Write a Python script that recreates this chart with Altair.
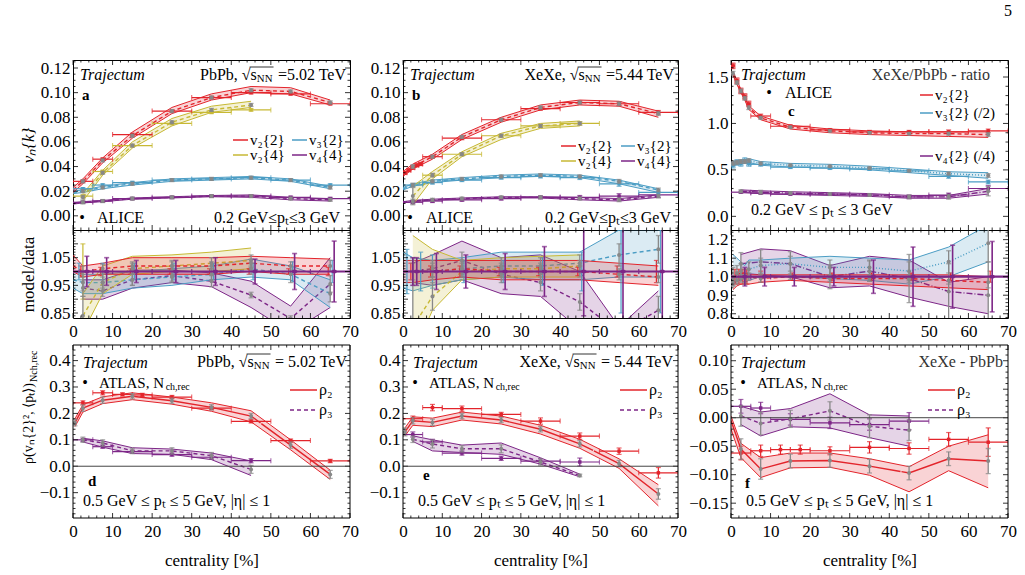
import altair as alt
import pandas as pd

FONT = "Liberation Serif"
RED, YEL, BLU, PUR, GRY = "#e3242b", "#c7b934", "#4b9dc4", "#7d2687", "#888888"

# ---------------- axis ticks ----------------
X_MAJOR = [0, 10, 20, 30, 40, 50, 60, 70]
X_MINOR = [2, 4, 6, 8, 12, 14, 16, 18, 22, 24, 26, 28, 32, 34, 36, 38,
           42, 44, 46, 48, 52, 54, 56, 58, 62, 64, 66, 68]
YT_A = [0.00, 0.02, 0.04, 0.06, 0.08, 0.10, 0.12]
YT_RAB = [0.85, 0.90, 0.95, 1.00, 1.05, 1.10]
YT_C = [0.0, 0.5, 1.0, 1.5]
YT_RC = [0.8, 0.9, 1.0, 1.1, 1.2]
YT_DE = [-0.1, 0.0, 0.1, 0.2, 0.3, 0.4]
YT_F = [-0.15, -0.10, -0.05, 0.00, 0.05, 0.10]

DOM_A = [-0.0115, 0.1265]
DOM_RAB = [0.832, 1.150]
DOM_C = [-0.147, 1.683]
DOM_RC = [0.777, 1.252]
DOM_DE = [-0.196, 0.459]
DOM_F = [-0.176, 0.1276]

# ---------------- panel a : PbPb v_n{k} ----------------
A_C = [0, 2.5, 7.5, 15, 25, 35, 45, 55, 65]
A_V22 = [0.021, 0.028, 0.045, 0.065, 0.085, 0.096, 0.102, 0.101, 0.092]
A_V22_LO = [0.019, 0.026, 0.043, 0.063, 0.083, 0.094, 0.100, 0.099, 0.090]
A_V22_HI = [0.023, 0.030, 0.047, 0.068, 0.088, 0.099, 0.105, 0.104, 0.094]
A_V24_C = [2.5, 7.5, 15, 25, 35, 45]
A_V24 = [0.015, 0.035, 0.057, 0.076, 0.086, 0.090]
A_V24_LO = [0.012, 0.033, 0.055, 0.073, 0.084, 0.088]
A_V24_HI = [0.018, 0.037, 0.060, 0.079, 0.089, 0.093]
A_V32 = [0.019, 0.020, 0.023, 0.026, 0.029, 0.030, 0.031, 0.029, 0.023]
A_V32_LO = [0.018, 0.019, 0.022, 0.025, 0.028, 0.029, 0.030, 0.028, 0.022]
A_V32_HI = [0.020, 0.021, 0.024, 0.027, 0.030, 0.031, 0.032, 0.030, 0.024]
A_V44 = [0.010, 0.011, 0.012, 0.014, 0.015, 0.016, 0.016, 0.014, 0.013]
A_V44_LO = [0.0095, 0.0105, 0.0115, 0.0135, 0.0145, 0.0155, 0.015, 0.013, 0.012]
A_V44_HI = [0.0105, 0.0115, 0.0125, 0.0145, 0.0155, 0.0165, 0.017, 0.015, 0.014]
A_GE = [None, 0.0012, 0.0012, 0.0012, 0.0012, 0.0012, 0.0012, 0.0012, 0.0012]
A_GE24 = [0.0015, 0.0012, 0.0012, 0.0012, 0.0012, 0.0012]
# ALICE PbPb
A_BLO = [0, 5, 10, 20, 30, 40, 50, 60]
A_BHI = [5, 10, 20, 30, 40, 50, 60, 70]
A_D22 = [0.028, 0.046, 0.066, 0.085, 0.096, 0.100, 0.099, 0.091]
A_D24 = [0.016, 0.036, 0.057, 0.075, 0.084, 0.086]
A_D32 = [0.022, 0.025, 0.027, 0.029, 0.030, 0.031, 0.029, 0.025]
A_D44 = [0.011, 0.012, 0.014, 0.015, 0.016, 0.016, 0.015, 0.014]
A_DE = [0.0010, 0.0010, 0.0010, 0.0010, 0.0010, 0.0010, 0.0010, 0.0010]

# ---------------- panel b : XeXe v_n{k} ----------------
B_C = [0, 2.5, 7.5, 15, 25, 35, 45, 55, 65]
B_V22 = [0.034, 0.040, 0.048, 0.064, 0.078, 0.088, 0.092, 0.091, 0.083]
B_V22_LO = [0.032, 0.038, 0.046, 0.062, 0.076, 0.086, 0.090, 0.089, 0.080]
B_V22_HI = [0.036, 0.042, 0.050, 0.066, 0.080, 0.090, 0.094, 0.093, 0.085]
B_V24_C = [2.5, 7.5, 15, 25, 35, 45]
B_V24 = [0.016, 0.033, 0.050, 0.065, 0.073, 0.075]
B_V24_LO = [0.009, 0.030, 0.048, 0.062, 0.071, 0.073]
B_V24_HI = [0.024, 0.036, 0.052, 0.067, 0.075, 0.077]
B_V32 = [0.022, 0.025, 0.028, 0.030, 0.032, 0.033, 0.032, 0.028, 0.021]
B_V32_LO = [0.021, 0.024, 0.027, 0.029, 0.031, 0.032, 0.031, 0.026, 0.019]
B_V32_HI = [0.023, 0.026, 0.029, 0.031, 0.033, 0.034, 0.033, 0.029, 0.022]
B_V44 = [0.011, 0.012, 0.013, 0.014, 0.015, 0.015, 0.014, 0.013, 0.016]
B_V44_LO = [0.0105, 0.0115, 0.0125, 0.0135, 0.0145, 0.0145, 0.013, 0.012, 0.015]
B_V44_HI = [0.0115, 0.0125, 0.0135, 0.0145, 0.0155, 0.0155, 0.015, 0.014, 0.017]
B_GE = [None, 0.0015, 0.0012, 0.0012, 0.0012, 0.0012, 0.0012, 0.0015, 0.0015]
B_GE24 = [0.007, 0.0015, 0.0012, 0.0012, 0.0012, 0.0012]
# ALICE XeXe
B_D22_LO = [0, 1, 2, 3, 4, 5, 10, 20, 30, 40, 50, 60]
B_D22_HI = [1, 2, 3, 4, 5, 10, 20, 30, 40, 50, 60, 70]
B_D22 = [0.035, 0.037, 0.039, 0.041, 0.042, 0.048, 0.063, 0.078, 0.087, 0.092, 0.091, 0.084]
B_D22_E = [0.0012, 0.0012, 0.0012, 0.0012, 0.0012, 0.0012, 0.0012, 0.0012, 0.0012, 0.0012, 0.0015, 0.0015]
B_BLO = [0, 5, 10, 20, 30, 40, 50, 60]
B_BHI = [5, 10, 20, 30, 40, 50, 60, 70]
B_D24 = [0.033, 0.050, 0.065, 0.073, 0.075]
B_D32 = [0.025, 0.027, 0.029, 0.031, 0.032, 0.031, 0.026, 0.019]
B_D44 = [0.011, 0.012, 0.013, 0.014, 0.015, 0.015, 0.016, 0.017]
B_DE = [0.0012, 0.0012, 0.0012, 0.0012, 0.0012, 0.0015, 0.0020, 0.0020]

# ---------------- panel c : XeXe/PbPb ratio ----------------
C_C = [0.5, 1.5, 2.5, 3.5, 4.5, 7.5, 15, 25, 35, 45, 55, 65]
C_V22 = [1.54, 1.44, 1.35, 1.27, 1.17, 1.06, 0.96, 0.92, 0.90, 0.89, 0.89, 0.88]
C_V22_LO = [1.52, 1.42, 1.33, 1.25, 1.15, 1.04, 0.94, 0.90, 0.88, 0.87, 0.86, 0.85]
C_V22_HI = [1.56, 1.46, 1.37, 1.29, 1.19, 1.08, 0.98, 0.94, 0.92, 0.91, 0.91, 0.91]
C_V32 = [0.57, 0.58, 0.59, 0.59, 0.60, 0.57, 0.55, 0.54, 0.52, 0.49, 0.46, 0.44]
C_V32_LO = [0.55, 0.56, 0.57, 0.57, 0.58, 0.55, 0.53, 0.52, 0.50, 0.47, 0.44, 0.41]
C_V32_HI = [0.59, 0.60, 0.61, 0.61, 0.62, 0.59, 0.57, 0.56, 0.54, 0.51, 0.48, 0.47]
C_V42_C = [2.5, 7.5, 15, 25, 35, 45, 55, 65]
C_V42 = [0.27, 0.26, 0.25, 0.24, 0.23, 0.21, 0.21, 0.27]
C_V42_LO = [0.255, 0.245, 0.235, 0.225, 0.215, 0.195, 0.195, 0.24]
C_V42_HI = [0.285, 0.275, 0.265, 0.255, 0.245, 0.225, 0.225, 0.30]
C_GE = [0.02, 0.02, 0.02, 0.02, 0.02, 0.015, 0.012, 0.012, 0.012, 0.012, 0.015, 0.02]
C_GE42 = [0.015, 0.02, 0.015, 0.015, 0.015, 0.02, 0.025, 0.05]
C_BLO = [0, 1, 2, 3, 4, 5, 10, 20, 30, 40, 50, 60]
C_BHI = [1, 2, 3, 4, 5, 10, 20, 30, 40, 50, 60, 70]
C_D22 = [1.62, 1.46, 1.35, 1.29, 1.21, 1.08, 0.97, 0.93, 0.91, 0.91, 0.91, 0.92]
C_D32 = [0.55, 0.58, 0.57, 0.60, 0.57, 0.56, 0.53, 0.52, 0.51, 0.49, 0.43, 0.37]
C_DE = [0.03, 0.03, 0.03, 0.03, 0.03, 0.02, 0.015, 0.015, 0.015, 0.015, 0.02, 0.02]
C_BLO42 = [0, 5, 10, 20, 30, 40, 50, 60]
C_BHI42 = [5, 10, 20, 30, 40, 50, 60, 70]
C_D42 = [0.26, 0.25, 0.24, 0.24, 0.23, 0.21, 0.23, 0.30]
C_DE42 = [0.01, 0.01, 0.01, 0.01, 0.01, 0.02, 0.02, 0.03]

# ---------------- model/data panels ----------------
RA_C = [0, 2.5, 7.5, 15, 25, 35, 45, 55, 65]
RA_V22 = [1.02, 1.00, 1.01, 1.02, 1.02, 1.02, 1.03, 1.02, 1.02]
RA_V22_LO = [1.00, 0.98, 0.99, 0.99, 0.99, 0.99, 1.00, 0.99, 0.99]
RA_V22_HI = [1.06, 1.02, 1.03, 1.05, 1.05, 1.05, 1.055, 1.05, 1.045]
RA_V24_C = [2.5, 7.5, 15, 25, 35, 45]
RA_V24 = [0.84, 0.96, 1.01, 1.02, 1.03, 1.04]
RA_V24_LO = [0.78, 0.92, 0.99, 1.00, 1.00, 1.01]
RA_V24_HI = [0.92, 1.02, 1.055, 1.06, 1.07, 1.085]
RA_V32 = [0.97, 0.96, 0.96, 0.97, 0.98, 0.99, 1.01, 0.99, 0.92]
RA_V32_LO = [0.94, 0.92, 0.92, 0.94, 0.95, 0.97, 0.98, 0.97, 0.87]
RA_V32_HI = [1.00, 0.99, 0.99, 1.00, 1.01, 1.02, 1.045, 1.02, 0.97]
RA_V44_C = [2.5, 7.5, 15, 25, 35, 45, 55, 65]
RA_V44 = [0.94, 0.93, 0.97, 0.985, 0.965, 0.915, 0.83, 0.955]
RA_V44_LO = [0.90, 0.90, 0.94, 0.96, 0.945, 0.87, 0.78, 0.87]
RA_V44_HI = [0.97, 0.97, 1.005, 1.005, 0.995, 0.965, 0.875, 1.05]
RA_G22 = [None, 0.02, 0.015, 0.015, 0.015, 0.015, 0.015, 0.015, 0.02]
RA_G24 = [0.07, 0.03, 0.02, 0.02, 0.02, 0.02]
RA_G32 = [None, 0.03, 0.02, 0.02, 0.02, 0.02, 0.02, 0.03, 0.03]
RA_G44 = [0.03, 0.02, 0.02, 0.02, 0.02, 0.01, 0.01, 0.03]
RA_E44_C = [3.5, 8.5, 16, 26, 36, 46, 56, 66]
RA_E44 = [0.055, 0.05, 0.04, 0.04, 0.05, 0.045, 0.065, 0.11]
RA_E22_C = [2.0, 7.0, 14.5, 24.5, 34.5, 44.5, 54.5, 64.5]
RA_E22 = [0.02, 0.015, 0.01, 0.01, 0.01, 0.01, 0.01, 0.015]
RA_E32_C = [1.5, 7.5, 15.5, 25.5, 35.5, 45.5, 55.5, 65.5]
RA_E32 = [0.03, 0.03, 0.03, 0.03, 0.03, 0.03, 0.035, 0.04]
RA_E24_C = [2.5]
RA_E24 = [0.10]

RB_C = [0, 2.5, 7.5, 15, 25, 35, 45, 55, 65]
RB_V22 = [1.00, 1.00, 1.00, 1.01, 1.00, 1.00, 1.00, 0.99, 0.98]
RB_V22_LO = [0.96, 0.96, 0.97, 0.98, 0.97, 0.97, 0.97, 0.96, 0.95]
RB_V22_HI = [1.04, 1.04, 1.04, 1.04, 1.04, 1.04, 1.04, 1.03, 1.02]
RB_V24_C = [2.5, 7.5, 15, 25, 35, 45]
RB_V24 = [0.80, 0.91, 1.00, 1.01, 1.01, 1.02]
RB_V24_LO = [0.70, 0.86, 0.97, 0.98, 0.98, 0.98]
RB_V24_HI = [1.13, 1.08, 1.04, 1.05, 1.055, 1.06]
RB_V32 = [1.00, 1.00, 1.00, 1.01, 1.02, 1.02, 1.03, 1.06, 1.08]
RB_V32_LO = [0.94, 0.93, 0.95, 0.97, 0.98, 0.97, 0.97, 0.98, 0.98]
RB_V32_HI = [1.07, 1.05, 1.04, 1.05, 1.07, 1.07, 1.07, 1.15, 1.16]
RB_V44_C = [2.5, 7.5, 15, 25, 35, 45, 55, 65]
RB_V44 = [1.00, 1.01, 1.04, 0.99, 0.96, 0.89, 0.78, 0.86]
RB_V44_LO = [0.96, 0.95, 0.97, 0.92, 0.91, 0.79, 0.70, 0.78]
RB_V44_HI = [1.03, 1.06, 1.11, 1.05, 1.06, 1.00, 0.80, 0.93]
RB_G22 = [None, 0.03, 0.02, 0.02, 0.02, 0.02, 0.02, 0.02, 0.02]
RB_G24 = [0.20, 0.05, 0.02, 0.02, 0.02, 0.02]
RB_G32 = [None, 0.05, 0.03, 0.03, 0.03, 0.03, 0.03, 0.04, 0.05]
RB_G44 = [0.04, 0.03, 0.03, 0.03, 0.03, 0.03, 0.04, 0.05]
RB_E44_C = [2.5, 3.5, 8.5, 16, 26, 36, 46, 56, 66]
RB_E44 = [0.05, 0.05, 0.065, 0.06, 0.065, 0.09, 0.16, 0.25, 0.30]
RB_E22_C = [2.0, 7.0, 14.5, 24.5, 34.5, 44.5, 54.5, 64.5]
RB_E22 = [0.03, 0.02, 0.02, 0.015, 0.015, 0.015, 0.02, 0.04]
RB_E32_C = [1.0, 4.5, 7.5, 15.5, 25.5, 35.5, 45.5, 55.5, 65.5]
RB_E32 = [0.08, 0.07, 0.06, 0.04, 0.04, 0.05, 0.07, 0.15, 0.15]

RC_C = [0.5, 1.5, 2.5, 3.5, 4.5, 7.5, 15, 25, 35, 45, 55, 65]
RC_V22 = [0.97, 0.98, 0.99, 0.99, 1.00, 0.99, 1.00, 0.99, 0.99, 0.99, 0.98, 0.97]
RC_V22_LO = [0.93, 0.95, 0.96, 0.96, 0.96, 0.97, 0.98, 0.97, 0.96, 0.95, 0.94, 0.93]
RC_V22_HI = [1.00, 1.01, 1.02, 1.02, 1.01, 1.01, 1.01, 1.01, 1.01, 1.01, 1.01, 1.00]
RC_V32 = [1.00, 1.02, 1.03, 1.00, 1.04, 1.06, 1.07, 1.05, 1.05, 1.03, 1.08, 1.18]
RC_V32_LO = [0.95, 0.98, 0.98, 0.97, 0.98, 1.00, 1.00, 0.99, 0.98, 0.96, 1.00, 1.08]
RC_V32_HI = [1.12, 1.10, 1.08, 1.06, 1.09, 1.09, 1.10, 1.11, 1.10, 1.09, 1.16, 1.28]
RC_V42_C = [2.5, 7.5, 15, 25, 35, 45, 55, 65]
RC_V42 = [1.07, 1.08, 1.07, 1.00, 1.03, 0.99, 0.92, 0.90]
RC_V42_LO = [1.02, 1.01, 1.00, 0.94, 0.95, 0.89, 0.84, 0.80]
RC_V42_HI = [1.12, 1.15, 1.14, 1.06, 1.11, 1.09, 0.97, 1.00]
RC_G22 = [0.02, 0.02, 0.02, 0.02, 0.02, 0.02, 0.015, 0.015, 0.015, 0.02, 0.02, 0.03]
RC_G32 = [0.05, 0.04, 0.04, 0.04, 0.04, 0.04, 0.04, 0.04, 0.04, 0.05, 0.06, 0.10]
RC_G42 = [0.06, 0.065, 0.065, 0.065, 0.055, 0.13, 0.15, 0.18]
RC_E42_C = [3.5, 8.5, 16, 26, 36, 46, 56, 66]
RC_E42 = [0.05, 0.05, 0.05, 0.05, 0.09, 0.16, 0.17, 0.19]
RC_E22_C = [1.0, 2.0, 3.0, 4.0, 7.5, 15.5, 25.5, 35.5, 45.5, 55.5, 65.5]
RC_E22 = [0.04, 0.04, 0.04, 0.04, 0.03, 0.02, 0.02, 0.02, 0.02, 0.02, 0.03]

# ---------------- panel d : PbPb rho ----------------
D_C = [0.5, 2.5, 7.5, 15, 25, 35, 45, 55, 65]
D_R2 = [0.165, 0.22, 0.25, 0.265, 0.248, 0.223, 0.19, 0.08, -0.031]
D_R2_LO = [0.15, 0.205, 0.237, 0.252, 0.235, 0.208, 0.168, 0.062, -0.05]
D_R2_HI = [0.18, 0.233, 0.263, 0.278, 0.262, 0.24, 0.21, 0.10, -0.015]
D_R2_GE = [0.012, 0.012, 0.012, 0.01, 0.01, 0.01, 0.01, 0.012, 0.015]
D_R3_C = [2.5, 7.5, 15, 25, 35, 45]
D_R3 = [0.10, 0.088, 0.058, 0.058, 0.04, -0.012]
D_R3_LO = [0.092, 0.072, 0.048, 0.045, 0.025, -0.035]
D_R3_HI = [0.106, 0.096, 0.07, 0.065, 0.05, 0.02]
D_R3_GE = [0.01, 0.012, 0.01, 0.012, 0.012, 0.015]
D_D2_LO = [0, 5, 10, 15, 20, 30, 40, 50, 60]
D_D2_HI = [5, 10, 15, 20, 30, 40, 50, 60, 70]
D_D2 = [0.24, 0.278, 0.272, 0.27, 0.262, 0.22, 0.17, 0.097, 0.02]
D_D2_E = [0.008, 0.008, 0.006, 0.006, 0.006, 0.006, 0.006, 0.006, 0.006]
D_D3_LO = [0, 5, 10, 20, 30, 40]
D_D3_HI = [5, 10, 20, 30, 40, 50]
D_D3 = [0.10, 0.074, 0.055, 0.044, 0.034, 0.021]
D_D3_E = [0.006, 0.006, 0.006, 0.006, 0.008, 0.008]

# ---------------- panel e : XeXe rho ----------------
E_C = [0.5, 2.5, 7.5, 15, 25, 35, 45, 55, 65]
E_R2 = [0.13, 0.172, 0.166, 0.19, 0.175, 0.14, 0.085, 0.01, -0.105]
E_R2_LO = [0.115, 0.155, 0.15, 0.175, 0.16, 0.122, 0.068, -0.008, -0.15]
E_R2_HI = [0.145, 0.187, 0.182, 0.205, 0.19, 0.155, 0.102, 0.028, -0.07]
E_R2_GE = [0.015, 0.012, 0.012, 0.01, 0.01, 0.01, 0.012, 0.012, 0.02]
E_R3_C = [2.5, 7.5, 15, 25, 35, 45]
E_R3 = [0.102, 0.084, 0.066, 0.066, 0.016, -0.035]
E_R3_LO = [0.094, 0.058, 0.052, 0.045, 0.008, -0.04]
E_R3_HI = [0.115, 0.10, 0.08, 0.088, 0.032, -0.03]
E_R3_GE = [0.012, 0.015, 0.012, 0.015, 0.012, 0.005]
E_D2_LO = [0, 5, 10, 20, 30, 40, 50, 60]
E_D2_HI = [5, 10, 20, 30, 40, 50, 60, 70]
E_D2 = [0.18, 0.222, 0.218, 0.196, 0.171, 0.114, 0.057, -0.025]
E_D2_E = [0.01, 0.012, 0.01, 0.008, 0.012, 0.012, 0.012, 0.02]
E_D3_LO = [0, 5, 10, 20, 30, 40]
E_D3_HI = [5, 10, 20, 30, 40, 50]
E_D3 = [0.12, 0.092, 0.05, 0.03, 0.019, 0.016]
E_D3_E = [0.01, 0.01, 0.008, 0.008, 0.01, 0.015]

# ---------------- panel f : XeXe - PbPb ----------------
F_C = [0, 2.5, 7.5, 15, 25, 35, 45, 55, 65]
F_R2 = [-0.005, -0.055, -0.09, -0.076, -0.075, -0.085, -0.097, -0.072, -0.076]
F_R2_LO = [-0.02, -0.07, -0.105, -0.088, -0.087, -0.101, -0.13, -0.093, -0.123]
F_R2_HI = [0.003, -0.045, -0.07, -0.062, -0.062, -0.072, -0.086, -0.05, -0.03]
F_R2_GE = [None, 0.018, 0.018, 0.012, 0.012, 0.012, 0.012, 0.012, 0.022]
F_R3_C = [2.5, 7.5, 15, 25, 35, 45]
F_R3 = [0.003, -0.01, -0.002, 0.012, -0.015, -0.022]
F_R3_LO = [-0.012, -0.032, -0.016, -0.018, -0.035, -0.05]
F_R3_HI = [0.02, 0.01, 0.016, 0.042, 0.005, 0.003]
F_R3_GE = [0.018, 0.02, 0.015, 0.016, 0.02, 0.018]
F_D2_LO = [0, 5, 10, 15, 20, 30, 40, 50, 60]
F_D2_HI = [5, 10, 15, 20, 30, 40, 50, 60, 70]
F_D2 = [-0.062, -0.058, -0.056, -0.056, -0.058, -0.052, -0.054, -0.038, -0.043]
F_D2_E = [0.012, 0.01, 0.008, 0.008, 0.007, 0.01, 0.01, 0.012, 0.025]
F_D3_LO = [0, 5, 10, 20, 30, 40]
F_D3_HI = [5, 10, 20, 30, 40, 50]
F_D3 = [0.02, 0.017, -0.003, -0.009, -0.012, -0.006]
F_D3_E = [0.012, 0.01, 0.01, 0.01, 0.01, 0.015]

# ======================================================================
ONE = pd.DataFrame({"k": [0]})

CW = {" ": 0.25, ",": 0.25, ".": 0.25, "=": 0.564, "-": 0.333, "/": 0.278,
      "(": 0.333, ")": 0.333, "{": 0.48, "}": 0.48, "A": 0.722, "G": 0.722,
      "L": 0.611, "N": 0.722, "P": 0.556, "S": 0.556, "T": 0.611, "V": 0.722,
      "X": 0.722, "a": 0.444, "b": 0.5, "e": 0.444, "√": 0.55, "s": 0.389}


def tw(s, size):
    return size * sum(CW.get(ch, 0.5) for ch in s)


class Panel:
    def __init__(self, w, h, dom, xaxis, yaxis, top=0):
        self.w, self.h, self.dom, self.top = w, h, dom, top
        self.xaxis, self.yaxis = xaxis, yaxis
        self.xs = alt.Scale(domain=[0, 70], nice=False, zero=False)
        if top:
            self.ys = alt.Scale(domain=dom, nice=False, zero=False, range=[h, top])
        else:
            self.ys = alt.Scale(domain=dom, nice=False, zero=False)
        self.layers = []

    def add(self, ch):
        self.layers.append(ch)


def X(P, f):
    return alt.X(f + ":Q", scale=P.xs, axis=P.xaxis)


def Y(P, f):
    return alt.Y(f + ":Q", scale=P.ys, axis=P.yaxis)


def minor(major, n, dom):
    step = (major[1] - major[0]) / n
    out = []
    k = int(dom[0] / step) - 1
    while k * step <= dom[1]:
        v = round(k * step, 6)
        if dom[0] <= v <= dom[1] and all(abs(v - m) > 1e-9 for m in major):
            out.append(v)
        k += 1
    return out


def ticks(P, ymaj, nsub):
    h, t, w = P.h, P.top, P.w
    ymin = minor(ymaj, nsub, P.dom)
    for vals, L in ((X_MAJOR, 5), (X_MINOR, 2.5)):
        df = pd.DataFrame({"t": vals})
        b = alt.Chart(df).mark_rule(color="black", strokeWidth=0.8)
        P.add(b.encode(x=X(P, "t"), y=alt.value(h), y2=alt.value(h - L)))
        P.add(b.encode(x=X(P, "t"), y=alt.value(t), y2=alt.value(t + L)))
    for vals, L in ((ymaj, 5), (ymin, 2.5)):
        df = pd.DataFrame({"t": vals})
        b = alt.Chart(df).mark_rule(color="black", strokeWidth=0.8)
        P.add(b.encode(y=Y(P, "t"), x=alt.value(0), x2=alt.value(L)))
        P.add(b.encode(y=Y(P, "t"), x=alt.value(w - L), x2=alt.value(w)))


def band(P, c, lo, hi, mid, color, dash=(4, 3), op=0.2):
    df = pd.DataFrame({"c": c, "lo": lo, "hi": hi, "mid": mid})
    b = alt.Chart(df)
    P.add(b.mark_area(color=color, opacity=op, clip=True).encode(
        x=X(P, "c"), y=Y(P, "lo"), y2=alt.Y2("hi")))
    P.add(b.mark_line(color=color, strokeWidth=1, clip=True).encode(x=X(P, "c"), y=Y(P, "lo")))
    P.add(b.mark_line(color=color, strokeWidth=1, clip=True).encode(x=X(P, "c"), y=Y(P, "hi")))
    P.add(b.mark_line(color=color, strokeWidth=1.4, strokeDash=list(dash), clip=True).encode(
        x=X(P, "c"), y=Y(P, "mid")))


def errbars(P, cm, v, e, color, sw=1.2, cap=5):
    rows = [(a, b, c) for a, b, c in zip(cm, v, e) if c is not None]
    df = pd.DataFrame({"cm": [r[0] for r in rows],
                       "e1": [r[1] - r[2] for r in rows],
                       "e2": [r[1] + r[2] for r in rows]})
    b = alt.Chart(df)
    P.add(b.mark_rule(color=color, strokeWidth=sw, clip=True).encode(
        x=X(P, "cm"), y=Y(P, "e1"), y2=alt.Y2("e2")))
    P.add(b.mark_tick(color=color, orient="horizontal", size=cap, thickness=sw, clip=True).encode(
        x=X(P, "cm"), y=Y(P, "e1")))
    P.add(b.mark_tick(color=color, orient="horizontal", size=cap, thickness=sw, clip=True).encode(
        x=X(P, "cm"), y=Y(P, "e2")))


def model_pts(P, c, v, e):
    errbars(P, c, v, e, GRY, sw=1.3)
    rows = [(a, b) for a, b, x in zip(c, v, e) if x is not None]
    df = pd.DataFrame({"c": [r[0] for r in rows], "v": [r[1] for r in rows]})
    P.add(alt.Chart(df).mark_circle(color=GRY, size=16, opacity=1, clip=True).encode(
        x=X(P, "c"), y=Y(P, "v")))


def data(P, lo, hi, v, e, color, sw=1.2, cm=None):
    if cm is None:
        cm = [(a + b) / 2 for a, b in zip(lo, hi)]
    df = pd.DataFrame({"lo": lo, "hi": hi, "v": v, "cm": cm})
    b = alt.Chart(df)
    P.add(b.mark_rule(color=color, strokeWidth=sw, clip=True).encode(
        x=X(P, "lo"), x2=alt.X2("hi"), y=Y(P, "v")))
    P.add(b.mark_tick(color=color, orient="vertical", size=5, thickness=1.1, clip=True).encode(
        x=X(P, "lo"), y=Y(P, "v")))
    P.add(b.mark_tick(color=color, orient="vertical", size=5, thickness=1.1, clip=True).encode(
        x=X(P, "hi"), y=Y(P, "v")))
    errbars(P, cm, v, e, color, sw=sw)
    P.add(b.mark_square(color=color, size=12, opacity=1, clip=True).encode(
        x=X(P, "cm"), y=Y(P, "v")))


def txt(P, x, y, s, size=16, align="left", baseline="middle", style="normal",
        weight="normal", angle=0, color="black"):
    P.add(alt.Chart(ONE).mark_text(
        text=s, font=FONT, fontSize=size, align=align, baseline=baseline,
        fontStyle=style, fontWeight=weight, angle=angle, color=color).encode(
        x=alt.value(x), y=alt.value(y)))


def seg(P, x1, x2, y, color, dash=None, sw=1.5):
    if dash:
        m = alt.Chart(ONE).mark_rule(color=color, strokeWidth=sw, strokeDash=list(dash))
    else:
        m = alt.Chart(ONE).mark_rule(color=color, strokeWidth=sw)
    P.add(m.encode(x=alt.value(x1), x2=alt.value(x2), y=alt.value(y)))


def header_sqrt(P, xr, y, pre, post, size=16):
    w_post = tw(post, size)
    w_nn = tw("NN", size * 0.68)
    x_nn = xr - w_post - w_nn
    txt(P, xr, y, post, size, align="right")
    txt(P, x_nn, y + 4, "NN", size * 0.68)
    txt(P, x_nn, y, pre, size, align="right")
    # overline of the square root
    seg(P, x_nn - tw("s", size) - 1, x_nn + w_nn + 1, y - 8, "black", sw=0.8)


def frame(P):
    P.add(alt.Chart(ONE).mark_rect(fillOpacity=0, stroke="black", strokeWidth=1).encode(
        x=alt.value(0), x2=alt.value(P.w), y=alt.value(P.top), y2=alt.value(P.h)))


def zero_line(P):
    df = pd.DataFrame({"z": [0.0]})
    P.add(alt.Chart(df).mark_rule(color="#444444", strokeWidth=1).encode(
        y=Y(P, "z"), x=alt.value(0), x2=alt.value(P.w)))


def yaxis(vals, fmt, title=None, h=0, top=0, style="normal"):
    if title:
        return alt.Axis(values=vals, format=fmt, title=title, titleX=-40,
                        titleY=(h + top) / 2, titleAngle=270, titleAlign="center",
                        titleBaseline="alphabetic", titleFontStyle=style)
    return alt.Axis(values=vals, format=fmt, title=None)


XAX_TOP = alt.Axis(values=X_MAJOR, labels=False, title=None)
XAX_MID = alt.Axis(values=X_MAJOR, format="d", title=None, labelPadding=5)
XAX_BOT = alt.Axis(values=X_MAJOR, format="d", title="centrality [%]",
                   labelPadding=5, titlePadding=13)

W_A, W_B, W_C = 277, 275, 277
H_TOP, H_RAT, H_BOT, GAP = 170, 88, 200, 27

# ---------------- build panel a ----------------
pa = Panel(W_A, H_TOP, DOM_A, XAX_TOP, yaxis(YT_A, ".2f", "vₙ{k}", H_TOP, style="italic"))
band(pa, A_C, A_V44_LO, A_V44_HI, A_V44, PUR)
band(pa, A_C, A_V32_LO, A_V32_HI, A_V32, BLU)
band(pa, A_V24_C, A_V24_LO, A_V24_HI, A_V24, YEL)
band(pa, A_C, A_V22_LO, A_V22_HI, A_V22, RED)
data(pa, A_BLO, A_BHI, A_D44, A_DE, PUR)
data(pa, A_BLO, A_BHI, A_D32, A_DE, BLU)
data(pa, A_BLO[:6], A_BHI[:6], A_D24, A_DE[:6], YEL)
data(pa, A_BLO, A_BHI, A_D22, A_DE, RED)
model_pts(pa, A_C, A_V44, A_GE)
model_pts(pa, A_C, A_V32, A_GE)
model_pts(pa, A_V24_C, A_V24, A_GE24)
model_pts(pa, A_C, A_V22, A_GE)
ticks(pa, YT_A, 4)
txt(pa, 7, 15, "Trajectum", 16, style="italic")
header_sqrt(pa, 273, 15, "PbPb, √s", " =5.02 TeV")
txt(pa, 9, 35, "a", 15, weight="bold")
seg(pa, 160, 175, 80, RED); txt(pa, 177, 80, "v₂{2}", 15)
seg(pa, 219, 234, 80, BLU); txt(pa, 236, 80, "v₃{2}", 15)
seg(pa, 160, 175, 95, YEL); txt(pa, 177, 95, "v₂{4}", 15)
seg(pa, 219, 234, 95, PUR); txt(pa, 236, 95, "v₄{4}", 15)
txt(pa, 9, 158, "•", 16, align="center")
txt(pa, 24, 158, "ALICE", 16)
txt(pa, 267, 158, "0.2 GeV≤pₜ≤3 GeV", 16, align="right")

# ---------------- build panel b ----------------
pb = Panel(W_B, H_TOP, DOM_A, XAX_TOP, yaxis(YT_A, ".2f"))
band(pb, B_C, B_V44_LO, B_V44_HI, B_V44, PUR)
band(pb, B_C, B_V32_LO, B_V32_HI, B_V32, BLU)
band(pb, B_V24_C, B_V24_LO, B_V24_HI, B_V24, YEL)
band(pb, B_C, B_V22_LO, B_V22_HI, B_V22, RED)
data(pb, B_BLO, B_BHI, B_D44, B_DE, PUR)
data(pb, B_BLO, B_BHI, B_D32, B_DE, BLU)
data(pb, B_BLO[1:6], B_BHI[1:6], B_D24, B_DE[1:6], YEL)
data(pb, B_D22_LO, B_D22_HI, B_D22, B_D22_E, RED)
model_pts(pb, B_C, B_V44, B_GE)
model_pts(pb, B_C, B_V32, B_GE)
model_pts(pb, B_V24_C, B_V24, B_GE24)
model_pts(pb, B_C, B_V22, B_GE)
ticks(pb, YT_A, 4)
txt(pb, 7, 15, "Trajectum", 16, style="italic")
header_sqrt(pb, 271, 15, "XeXe, √s", " =5.44 TeV")
txt(pb, 9, 35, "b", 15, weight="bold")
seg(pb, 158, 173, 86, RED); txt(pb, 175, 86, "v₂{2}", 15)
seg(pb, 218, 232, 86, BLU); txt(pb, 234, 86, "v₃{2}", 15)
seg(pb, 158, 173, 101, YEL); txt(pb, 175, 101, "v₂{4}", 15)
seg(pb, 218, 232, 101, PUR); txt(pb, 234, 101, "v₄{4}", 15)
txt(pb, 7, 158, "•", 16, align="center")
txt(pb, 23, 158, "ALICE", 16)
txt(pb, 268, 158, "0.2 GeV≤pₜ≤3 GeV", 16, align="right")

# ---------------- build panel c ----------------
pc = Panel(W_C, H_TOP, DOM_C, XAX_TOP, yaxis(YT_C, ".1f"))
band(pc, C_V42_C, C_V42_LO, C_V42_HI, C_V42, PUR, dash=(6, 2, 1, 2))
band(pc, C_C, C_V32_LO, C_V32_HI, C_V32, BLU, dash=(1, 2))
band(pc, C_C, C_V22_LO, C_V22_HI, C_V22, RED, dash=(4, 3))
data(pc, C_BLO42, C_BHI42, C_D42, C_DE42, PUR)
data(pc, C_BLO, C_BHI, C_D32, C_DE, BLU)
data(pc, C_BLO, C_BHI, C_D22, C_DE, RED)
model_pts(pc, C_V42_C, C_V42, C_GE42)
model_pts(pc, C_C, C_V32, C_GE)
model_pts(pc, C_C, C_V22, C_GE)
ticks(pc, YT_C, 5)
txt(pc, 10, 15, "Trajectum", 16, style="italic")
txt(pc, 259, 15, "XeXe/PbPb - ratio", 16, align="right", color="#333333")
txt(pc, 38, 33, "•", 16, align="center")
txt(pc, 54, 33, "ALICE", 16)
txt(pc, 57, 51, "c", 15, weight="bold")
seg(pc, 189, 202, 35, RED); txt(pc, 204, 35, "v₂{2}", 15)
seg(pc, 189, 202, 53, BLU); txt(pc, 204, 53, "v₃{2} (/2)", 15)
seg(pc, 189, 202, 96, PUR); txt(pc, 204, 96, "v₄{2} (/4)", 15)
txt(pc, 20, 150, "0.2 GeV ≤ pₜ ≤ 3 GeV", 16)
txt(pc, 277, -49, "5", 16, align="center")

# ---------------- model/data panels ----------------
ra = Panel(W_A, H_RAT, DOM_RAB, XAX_MID, yaxis(YT_RAB, ".2f", "model/data", H_RAT))
band(ra, RA_V44_C, RA_V44_LO, RA_V44_HI, RA_V44, PUR)
band(ra, RA_C, RA_V32_LO, RA_V32_HI, RA_V32, BLU)
band(ra, RA_V24_C, RA_V24_LO, RA_V24_HI, RA_V24, YEL)
band(ra, RA_C, RA_V22_LO, RA_V22_HI, RA_V22, RED)
errbars(ra, RA_E24_C, [1.0], RA_E24, YEL)
errbars(ra, RA_E22_C, [1.0] * len(RA_E22_C), RA_E22, RED)
errbars(ra, RA_E32_C, [1.0] * len(RA_E32_C), RA_E32, BLU)
model_pts(ra, RA_V24_C, RA_V24, RA_G24)
model_pts(ra, RA_C, RA_V32, RA_G32)
model_pts(ra, RA_C, RA_V22, RA_G22)
model_pts(ra, RA_V44_C, RA_V44, RA_G44)
data(ra, A_BLO, A_BHI, [1.0] * 8, [0.0] * 8, PUR, sw=2.2, cm=RA_E44_C)
errbars(ra, RA_E44_C, [1.0] * len(RA_E44_C), RA_E44, PUR, sw=1.6)
ticks(ra, YT_RAB, 5)

rb = Panel(W_B, H_RAT, DOM_RAB, XAX_MID, yaxis(YT_RAB, ".2f"))
band(rb, RB_V44_C, RB_V44_LO, RB_V44_HI, RB_V44, PUR)
band(rb, RB_C, RB_V32_LO, RB_V32_HI, RB_V32, BLU)
band(rb, RB_V24_C, RB_V24_LO, RB_V24_HI, RB_V24, YEL)
band(rb, RB_C, RB_V22_LO, RB_V22_HI, RB_V22, RED)
errbars(rb, RB_E22_C, [1.0] * len(RB_E22_C), RB_E22, RED)
errbars(rb, RB_E32_C, [1.0] * len(RB_E32_C), RB_E32, BLU)
model_pts(rb, RB_V24_C, RB_V24, RB_G24)
model_pts(rb, RB_C, RB_V32, RB_G32)
model_pts(rb, RB_C, RB_V22, RB_G22)
model_pts(rb, RB_V44_C, RB_V44, RB_G44)
data(rb, B_BLO, B_BHI, [1.0] * 8, [0.0] * 8, PUR, sw=2.2, cm=RB_E44_C[1:])
errbars(rb, RB_E44_C, [1.0] * len(RB_E44_C), RB_E44, PUR, sw=1.6)
ticks(rb, YT_RAB, 5)

rc = Panel(W_C, H_RAT, DOM_RC, XAX_MID, yaxis(YT_RC, ".1f"))
band(rc, RC_V42_C, RC_V42_LO, RC_V42_HI, RC_V42, PUR, dash=(6, 2, 1, 2))
band(rc, RC_C, RC_V32_LO, RC_V32_HI, RC_V32, BLU, dash=(1, 2))
band(rc, RC_C, RC_V22_LO, RC_V22_HI, RC_V22, RED)
errbars(rc, RC_E22_C, [1.0] * len(RC_E22_C), RC_E22, RED)
model_pts(rc, RC_C, RC_V32, RC_G32)
model_pts(rc, RC_C, RC_V22, RC_G22)
model_pts(rc, RC_V42_C, RC_V42, RC_G42)
data(rc, C_BLO42, C_BHI42, [1.0] * 8, [0.0] * 8, PUR, sw=2.2, cm=RC_E42_C)
errbars(rc, RC_E42_C, [1.0] * len(RC_E42_C), RC_E42, PUR, sw=1.6)
ticks(rc, YT_RC, 5)


# ---------------- rho panels ----------------
def rho_common(P, letter, lx, ly, bx, legx):
    zero_line(P)
    frame(P)
    txt(P, 10, 45, "Trajectum", 16, style="italic")
    txt(P, 12, 65, "•", 16, align="center")
    txt(P, 26, 65, "ATLAS, N", 15)
    txt(P, 26 + tw("ATLAS, N", 15), 69, "ch,rec", 10)
    seg(P, legx, legx + 27, 72, RED)
    txt(P, legx + 29, 72, "ρ₂", 16)
    seg(P, legx, legx + 27, 92, PUR, dash=(4, 3))
    txt(P, legx + 29, 92, "ρ₃", 16)
    txt(P, lx, ly, letter, 15, weight="bold")
    txt(P, bx, 183, "0.5 GeV ≤ pₜ ≤ 5 GeV, |η| ≤ 1", 16)


pd_ = Panel(W_A, H_BOT, DOM_DE, XAX_BOT, yaxis(YT_DE, ".1f"), top=GAP)
band(pd_, D_R3_C, D_R3_LO, D_R3_HI, D_R3, PUR)
band(pd_, D_C, D_R2_LO, D_R2_HI, D_R2, RED, dash=(200, 1))
data(pd_, D_D3_LO, D_D3_HI, D_D3, D_D3_E, PUR)
data(pd_, D_D2_LO, D_D2_HI, D_D2, D_D2_E, RED)
model_pts(pd_, D_R3_C, D_R3, D_R3_GE)
model_pts(pd_, D_C, D_R2, D_R2_GE)
ticks(pd_, YT_DE, 5)
rho_common(pd_, "d", 15, 163, 10, 217)
header_sqrt(pd_, 274, 44, "PbPb, √s", " = 5.02 TeV")
txt(pd_, -40, 146, "ρ(vₙ{2}², ⟨pₜ⟩)", 14, angle=270, baseline="alphabetic")
txt(pd_, -36, 64, "Nch,rec", 10, angle=270, baseline="alphabetic")

pe = Panel(W_B, H_BOT, DOM_DE, XAX_BOT, yaxis(YT_DE, ".1f"), top=GAP)
band(pe, E_R3_C, E_R3_LO, E_R3_HI, E_R3, PUR)
band(pe, E_C, E_R2_LO, E_R2_HI, E_R2, RED, dash=(200, 1))
data(pe, E_D3_LO, E_D3_HI, E_D3, E_D3_E, PUR)
data(pe, E_D2_LO, E_D2_HI, E_D2, E_D2_E, RED)
model_pts(pe, E_R3_C, E_R3, E_R3_GE)
model_pts(pe, E_C, E_R2, E_R2_GE)
ticks(pe, YT_DE, 5)
rho_common(pe, "e", 20, 157, 15, 217)
header_sqrt(pe, 270, 44, "XeXe, √s", " = 5.44 TeV")

pf = Panel(W_C, H_BOT, DOM_F, XAX_BOT, yaxis(YT_F, ".2f"), top=GAP)
band(pf, F_R3_C, F_R3_LO, F_R3_HI, F_R3, PUR)
band(pf, F_C, F_R2_LO, F_R2_HI, F_R2, RED, dash=(200, 1))
data(pf, F_D3_LO, F_D3_HI, F_D3, F_D3_E, PUR)
data(pf, F_D2_LO, F_D2_HI, F_D2, F_D2_E, RED)
model_pts(pf, F_R3_C, F_R3, F_R3_GE)
model_pts(pf, F_C, F_R2, F_R2_GE)
ticks(pf, YT_F, 5)
rho_common(pf, "f", 14, 165, 15, 197)
txt(pf, 272, 44, "XeXe - PbPb", 16, align="right", color="#333333")


# ---------------- assemble ----------------
def lay(P, frameless=False):
    ch = alt.layer(*P.layers).properties(width=P.w, height=P.h)
    if frameless:
        ch = ch.properties(view=alt.ViewBackground(stroke="transparent"))
    return ch


charts = [lay(pa), lay(pb), lay(pc), lay(ra), lay(rb), lay(rc),
          lay(pd_, True), lay(pe, True), lay(pf, True)]

chart = alt.concat(*charts, columns=3, spacing={"row": 0, "column": 53},
                   bounds="flush", align="each").properties(
    padding={"left": 18, "top": 2, "right": 5, "bottom": 2},
    background="white",
).configure_view(stroke="black", strokeWidth=1).configure_axis(
    labelFont=FONT, labelFontSize=17, labelColor="black",
    titleFont=FONT, titleFontSize=17, titleColor="black", titleFontWeight="normal",
    grid=False, ticks=False, domain=False, labelFlush=False, labelPadding=3,
)

chart.save("out.html", embed_options={"renderer": "svg", "actions": False})
